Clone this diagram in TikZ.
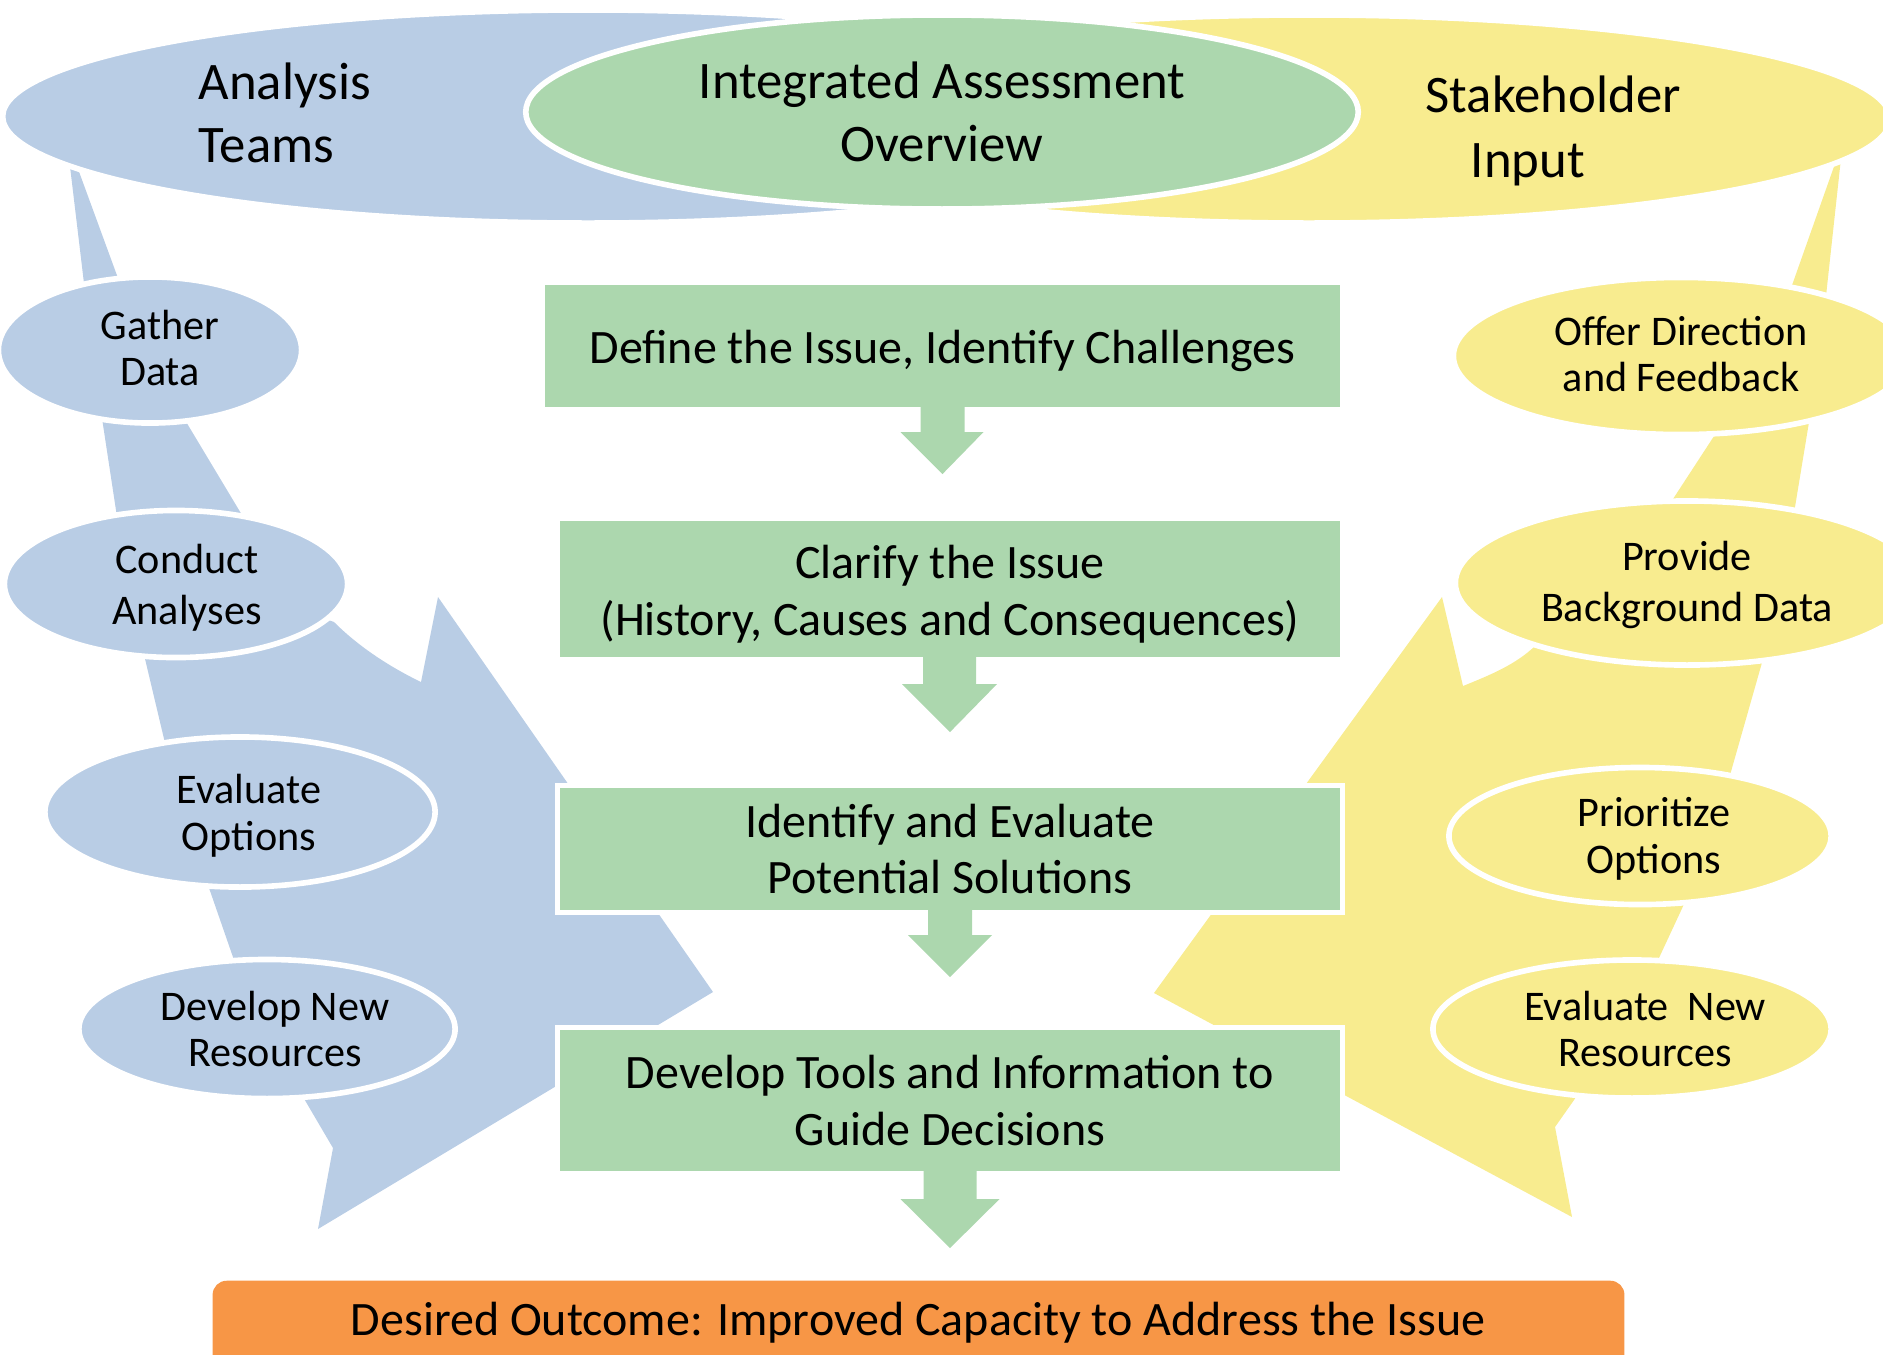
\documentclass[tikz,border=0pt]{standalone}
\usepackage{fontspec}
\setmainfont{Carlito}
\usetikzlibrary{shapes.geometric}
\definecolor{teamblue}{RGB}{185,205,229}
\definecolor{stepgreen}{RGB}{172,215,174}
\definecolor{inputyellow}{RGB}{248,236,143}
\definecolor{outorange}{RGB}{247,150,70}

\begin{document}
\begin{tikzpicture}[x=0.01cm, y=-0.01cm,
	bub/.style={ellipse, draw=white, line width=1.6pt, inner sep=0pt},
	bubtext/.style={align=center, inner sep=0pt, font=\fontsize{12}{13.3}\selectfont},
	bigtext/.style={inner sep=0pt, font=\fontsize{15}{18}\selectfont},
	stepbox/.style={rectangle, fill=stepgreen, draw=white, line width=1.4pt, inner sep=0pt, outer sep=0pt},
	steptext/.style={align=center, inner sep=0pt, font=\fontsize{13.65}{16.2}\selectfont}]
	\useasboundingbox (0,0) rectangle (1883,1354);
	\clip (0,0) rectangle (1883,1354);
	\fill [teamblue] (69,158) -- (74,158) -- (126,300) -- (86,300) -- cycle;
	\fill [teamblue] (100,405) -- (176,405) -- (251,530) -- (119,530) -- cycle;
	\fill [teamblue] (138,630) -- (146,663) -- (165,743) -- (178,800) -- (196,850) -- (208,885) -- (234,960) -- (248,1000) -- (293,1080) -- (306,1102) -- (333,1148) -- (318,1229) -- (713,992) -- (438,597) -- (421,682) .. controls (392,668) and (360,648) .. (334,622) -- (300,610) -- cycle;
	\fill [inputyellow] (1837,158) -- (1841,158) -- (1825,305) -- (1785,305) -- cycle;
	\fill [inputyellow] (1731,410) -- (1811,410) -- (1792,525) -- (1656,525) -- cycle;
	\fill [inputyellow] (1768,640) -- (1763,659) -- (1730,775) -- (1685,902) -- (1658,960) -- (1574,1100) -- (1555,1127) -- (1572,1217) -- (1154,993) -- (1442,597) -- (1463,686) .. controls (1490,675) and (1515,665) .. (1535,646) -- (1600,620) -- cycle;
	\node [bub, fill=teamblue, minimum width=11.70cm, minimum height=2.13cm] (teams) at (588,116.5) {};
	\node [bub, fill=inputyellow, minimum width=11.62cm, minimum height=2.08cm] (stake) at (1309,119) {};
	\node [bub, fill=stepgreen, minimum width=8.32cm, minimum height=1.94cm, bigtext, align=center] (overview) at (942,112) {Integrated Assessment\\Overview};
	\node [bigtext, align=left, anchor=west] (teamstext) at (198,113) {Analysis\\Teams};
	\node [bigtext, align=left, anchor=west, font=\fontsize{15}{18.7}\selectfont] (staketext) at (1425,131) {Stakeholder\\\hspace*{0.45cm}Input};
	\node [bub, fill=teamblue, minimum width=3.03cm, minimum height=1.46cm] (gather) at (150,350) {};
	\node [bub, fill=teamblue, minimum width=3.43cm, minimum height=1.47cm] (conduct) at (176,584) {};
	\node [bub, fill=teamblue, minimum width=3.90cm, minimum height=1.50cm] (evalopt) at (240,812) {};
	\node [bub, fill=teamblue, minimum width=3.76cm, minimum height=1.39cm] (devnew) at (267,1029) {};
	\node [bub, fill=inputyellow, minimum width=4.55cm, minimum height=1.57cm] (offer) at (1681,356) {};
	\node [bub, fill=inputyellow, minimum width=4.63cm, minimum height=1.64cm] (provide) at (1687,583) {};
	\node [bub, fill=inputyellow, minimum width=3.82cm, minimum height=1.37cm] (prior) at (1640,836) {};
	\node [bub, fill=inputyellow, minimum width=3.98cm, minimum height=1.38cm] (evalnew) at (1632,1029) {};
	\node [bubtext] (gathertext) at (160,348) {Gather\\Data};
	\node [bubtext, font=\fontsize{12}{14.6}\selectfont] (conducttext) at (187,588) {Conduct\\Analyses};
	\node [bubtext] (evalopttext) at (249,816) {Evaluate\\Options};
	\node [bubtext] (devnewtext) at (275,1029) {Develop New\\Resources};
	\node [bubtext] (offertext) at (1681,354) {Offer Direction\\and Feedback};
	\node [bubtext, font=\fontsize{12}{14.6}\selectfont] (providetext) at (1687,585) {Provide\\Background Data};
	\node [bubtext] (priortext) at (1654,839) {Prioritize\\Options};
	\node [bubtext] (evalnewtext) at (1645,1029) {Evaluate\ \ New\\Resources};
	\node [stepbox, minimum width=8.00cm, minimum height=1.27cm] (define) at (942.5,346) {};
	\node [stepbox, minimum width=7.85cm, minimum height=1.41cm] (clarify) at (950,589) {};
	\node [stepbox, minimum width=7.85cm, minimum height=1.27cm] (identify) at (950,849) {};
	\node [stepbox, minimum width=7.85cm, minimum height=1.46cm] (develop) at (950,1100.5) {};
	\node [steptext] (definetext) at (942.5,351) {Define the Issue, Identify Challenges};
	\node [steptext] (clarifytext) at (950,594) {Clarify the Issue\\(History, Causes and Consequences)};
	\node [steptext] (identifytext) at (950,849) {Identify and Evaluate\\Potential Solutions};
	\node [steptext] (developtext) at (950,1100.5) {Develop Tools and Information to\\Guide Decisions};
	\fill [stepgreen, shift={(define.south)}] (-22,-4) -- (-22,22.5) -- (-42,22.5) -- (0,64.5) -- (41,22.5) -- (22,22.5) -- (22,-4) -- cycle;
	\fill [stepgreen, shift={(clarify.south)}] (-27,-4) -- (-27,24.5) -- (-48,24.5) -- (0,72.5) -- (47,24.5) -- (26,24.5) -- (26,-4) -- cycle;
	\fill [stepgreen, shift={(identify.south)}] (-22,-4) -- (-22,22.5) -- (-42,22.5) -- (0,64.5) -- (42,22.5) -- (22,22.5) -- (22,-4) -- cycle;
	\fill [stepgreen, shift={(develop.south)}] (-26.5,-4) -- (-26.5,25.5) -- (-49.5,25.5) -- (0,74.5) -- (49.5,25.5) -- (26.5,25.5) -- (26.5,-4) -- cycle;
	\node [rectangle, fill=outorange, rounded corners=4pt, minimum width=14.11cm, minimum height=1.2cm, anchor=north, inner sep=0pt] (outcome) at (918.5,1280) {};
	\node [steptext] (outcometext) at (918,1323) {Desired Outcome: Improved Capacity to Address the Issue};
\end{tikzpicture}
\end{document}
